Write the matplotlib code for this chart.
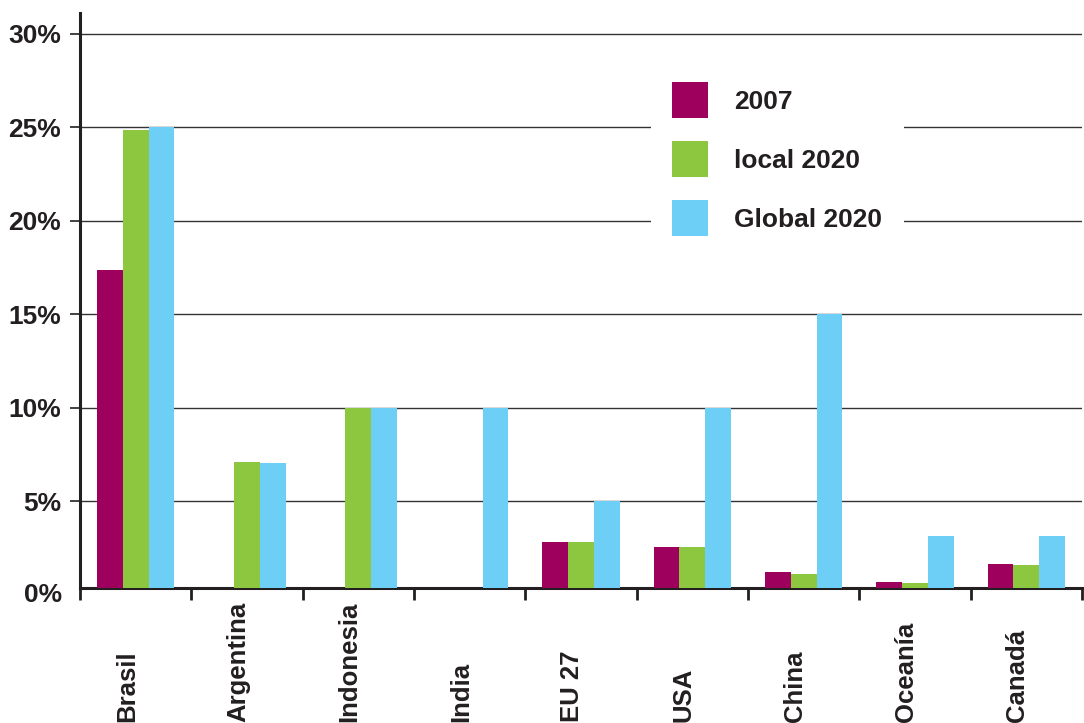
import matplotlib
matplotlib.use('Agg')
import matplotlib.pyplot as plt
import matplotlib.transforms as mtransforms
import numpy as np

# datos (% )
regiones = ['Brasil', 'Argentina', 'Indonesia', 'India', 'EU 27', 'USA', 'China', 'Oceanía', 'Canadá']
v_2007 = [17.35, 0, 0, 0, 2.8, 2.53, 1.21, 0.71, 1.62]
v_local_2020 = [24.85, 7.1, 10.0, 0, 2.8, 2.53, 1.1, 0.62, 1.57]
v_global_2020 = [25.0, 7.05, 10.0, 10.0, 5.0, 10.0, 15.0, 3.15, 3.15]
series = ['2007', 'local 2020', 'Global 2020']
colores = ['#9e005d', '#8dc63f', '#6dcff6']
y_ticks = [5, 10, 15, 20, 25, 30]

TXT = '#231f20'
plt.rcParams['font.family'] = ['Liberation Sans', 'DejaVu Sans']
plt.rcParams['font.weight'] = 'bold'

fig = plt.figure(figsize=(10.84, 7.23), dpi=100)
ax = fig.add_axes([80 / 1084, 1 - 587.5 / 723, 1002 / 1084, 574.5 / 723])

x = np.arange(len(regiones))
ancho = 0.231
barras = []
for k, vals in enumerate([v_2007, v_local_2020, v_global_2020]):
    b = ax.bar(x + (k - 1) * ancho, vals, ancho, color=colores[k], linewidth=0,
               label=series[k], zorder=3)
    barras.append(b)

ax.set_xlim(-0.5, len(regiones) - 0.5)
ax.set_ylim(0.39, 31.1)

# grid
ax.set_yticks(y_ticks)
ax.set_yticklabels(['%d%%' % t for t in y_ticks], fontsize=19, fontweight='bold', color=TXT)
ax.yaxis.grid(True, color='#333333', linewidth=1.0, zorder=0)
ax.set_axisbelow(True)
# 0% queda justo bajo el eje
off = mtransforms.offset_copy(ax.transData, fig=fig, x=-18, y=0, units='dots')
ax.text(-0.5, 0, '0%', transform=off, ha='right', va='center', fontsize=19,
        fontweight='bold', color=TXT, clip_on=False)

ax.set_xticks(np.arange(len(regiones) + 1) - 0.5)
ax.set_xticklabels([])
ax.tick_params(axis='x', direction='out', length=8.5, width=2.0, color=TXT)
ax.tick_params(axis='y', direction='out', length=7.5, width=1.3, color='#333333', pad=6)

for s in ['top', 'right']:
    ax.spines[s].set_visible(False)
for s in ['left', 'bottom']:
    ax.spines[s].set_color(TXT)
    ax.spines[s].set_linewidth(2.2)

# etiquetas de regiones
trans = mtransforms.blended_transform_factory(ax.transData, fig.transFigure)
for i, r in enumerate(regiones):
    ax.text(i - 0.08, 0.002, r, transform=trans, rotation=90, ha='center', va='bottom',
            fontsize=18.5, fontweight='bold', color=TXT, clip_on=False)

leg = ax.legend(handles=barras, labels=series, loc='upper left',
                bbox_to_anchor=(651 / 1084, 1 - 61 / 723), bbox_transform=fig.transFigure,
                borderaxespad=0, borderpad=0.8, handlelength=1.36, handleheight=1.72,
                handletextpad=1.0, labelspacing=0.87, frameon=True, fancybox=False,
                facecolor='white', edgecolor='none', framealpha=1,
                prop={'size': 19, 'weight': 'bold'})
for t in leg.get_texts():
    t.set_color(TXT)

fig.savefig('out.png', dpi=100)
